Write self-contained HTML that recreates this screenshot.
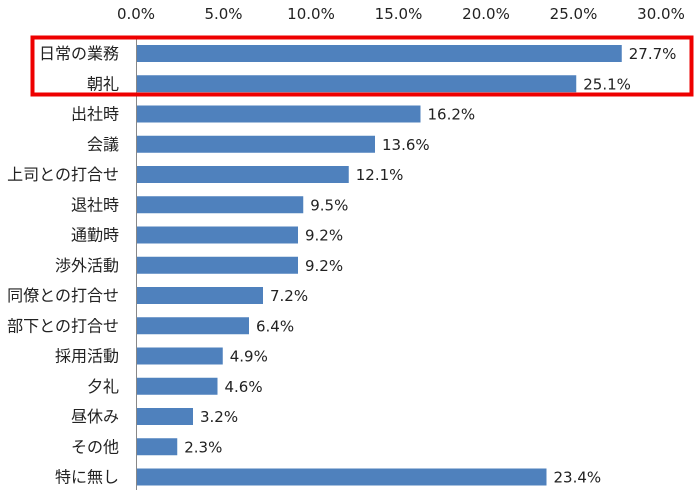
<!DOCTYPE html>
<html><head><meta charset="utf-8"><style>
body{margin:0;background:#fff;}
svg text{font-family:"Liberation Sans","Noto Sans CJK JP",sans-serif;font-size:16px;fill:#222;}
svg text.n{font-family:"DejaVu Sans",sans-serif;font-size:15px;}
</style></head><body>
<svg width="700" height="493" xmlns="http://www.w3.org/2000/svg">
<g text-anchor="middle">
<text class="n" x="136" y="19">0.0%</text><text class="n" x="223.5" y="19">5.0%</text><text class="n" x="311" y="19">10.0%</text><text class="n" x="398.5" y="19">15.0%</text><text class="n" x="486" y="19">20.0%</text><text class="n" x="573.5" y="19">25.0%</text><text class="n" x="661" y="19">30.0%</text>
</g>
<line x1="136.5" y1="37" x2="136.5" y2="490" stroke="#888" stroke-width="1"/>
<g fill="#4f81bd">
<rect x="137" y="45" width="484.75" height="17"/>
<rect x="137" y="75.25" width="439.25" height="17"/>
<rect x="137" y="105.5" width="283.5" height="17"/>
<rect x="137" y="135.75" width="238" height="17"/>
<rect x="137" y="166" width="211.75" height="17"/>
<rect x="137" y="196.25" width="166.25" height="17"/>
<rect x="137" y="226.5" width="161" height="17"/>
<rect x="137" y="256.75" width="161" height="17"/>
<rect x="137" y="287" width="126" height="17"/>
<rect x="137" y="317.25" width="112" height="17"/>
<rect x="137" y="347.5" width="85.75" height="17"/>
<rect x="137" y="377.75" width="80.5" height="17"/>
<rect x="137" y="408" width="56" height="17"/>
<rect x="137" y="438.25" width="40.25" height="17"/>
<rect x="137" y="468.5" width="409.5" height="17"/>
</g>
<g text-anchor="end">
<text x="119" y="59">日常の業務</text>
<text x="119" y="89.25">朝礼</text>
<text x="119" y="119.5">出社時</text>
<text x="119" y="149.75">会議</text>
<text x="119" y="180">上司との打合せ</text>
<text x="119" y="210.25">退社時</text>
<text x="119" y="240.5">通勤時</text>
<text x="119" y="270.75">渉外活動</text>
<text x="119" y="301">同僚との打合せ</text>
<text x="119" y="331.25">部下との打合せ</text>
<text x="119" y="361.5">採用活動</text>
<text x="119" y="391.75">夕礼</text>
<text x="119" y="422">昼休み</text>
<text x="119" y="452.25">その他</text>
<text x="119" y="482.5">特に無し</text>
</g>
<g>
<text class="n" x="628.75" y="59">27.7%</text>
<text class="n" x="583.25" y="89.25">25.1%</text>
<text class="n" x="427.5" y="119.5">16.2%</text>
<text class="n" x="382" y="149.75">13.6%</text>
<text class="n" x="355.75" y="180">12.1%</text>
<text class="n" x="310.25" y="210.25">9.5%</text>
<text class="n" x="305" y="240.5">9.2%</text>
<text class="n" x="305" y="270.75">9.2%</text>
<text class="n" x="270" y="301">7.2%</text>
<text class="n" x="256" y="331.25">6.4%</text>
<text class="n" x="229.75" y="361.5">4.9%</text>
<text class="n" x="224.5" y="391.75">4.6%</text>
<text class="n" x="200" y="422">3.2%</text>
<text class="n" x="184.25" y="452.25">2.3%</text>
<text class="n" x="553.5" y="482.5">23.4%</text>
</g>
<rect x="32.5" y="37.5" width="659" height="57" fill="none" stroke="#e00" stroke-width="4"/>
</svg>
</body></html>
